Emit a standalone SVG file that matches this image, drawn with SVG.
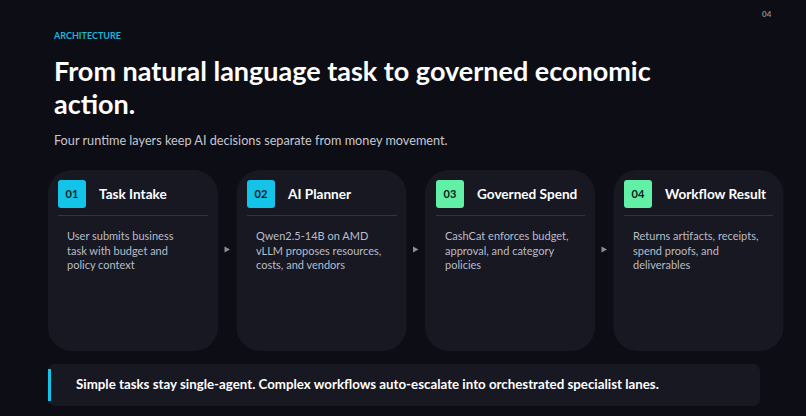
<svg xmlns="http://www.w3.org/2000/svg" width="806" height="416" viewBox="0 0 806 416">
<style>
.bg{fill:#0d0d15}
.card{fill:#181822}
.sep{stroke:#34343f;stroke-width:1}
.badge-c{fill:#14c3e8}
.badge-g{fill:#62efa6}
.bnum{font-family:Lato,"Open Sans",sans-serif;font-weight:700;font-size:11px;fill:#0b1a22}
.ctitle{font-family:Lato,"Open Sans",sans-serif;font-weight:700;font-size:13.6px;fill:#ffffff}
.body{font-family:Lato,"Open Sans",sans-serif;font-size:11px;fill:#b9bcc8}
.arrow{fill:#8c8c99}
</style>
<rect class="bg" x="0" y="0" width="806" height="416"/>
<text x="762" y="17" font-family="Lato,sans-serif" font-weight="700" font-size="8px" fill="#8a8a96">04</text>
<text x="54" y="39" font-family="Lato,sans-serif" font-weight="700" font-size="9px" fill="#1fb3d5">ARCHITECTURE</text>
<text font-family="Lato,'Open Sans',sans-serif" font-weight="700" font-size="27px" fill="#ffffff"><tspan x="54" y="81">From natural language task to governed economic</tspan><tspan x="54" y="114">action.</tspan></text>
<text x="54" y="145" font-family="Lato,'Open Sans',sans-serif" font-size="12.7px" fill="#c6c7d0">Four runtime layers keep AI decisions separate from money movement.</text>

<g id="node-01">
<rect class="card" x="48" y="170" width="170" height="181" rx="24"/>
<rect class="badge-c" x="58" y="180" width="28" height="28" rx="3"/>
<text class="bnum" x="72" y="198" text-anchor="middle">01</text>
<text class="ctitle" x="99" y="199">Task Intake</text>
<line class="sep" x1="58" y1="215.5" x2="208" y2="215.5"/>
<text class="body"><tspan x="67" y="240">User submits business</tspan><tspan x="67" y="254.5">task with budget and</tspan><tspan x="67" y="269">policy context</tspan></text>
</g>

<g id="node-02">
<rect class="card" x="236.5" y="170" width="170" height="181" rx="24"/>
<rect class="badge-c" x="247" y="180" width="28" height="28" rx="3"/>
<text class="bnum" x="261" y="198" text-anchor="middle">02</text>
<text class="ctitle" x="288" y="199">AI Planner</text>
<line class="sep" x1="247" y1="215.5" x2="397" y2="215.5"/>
<text class="body"><tspan x="256" y="240">Qwen2.5-14B on AMD</tspan><tspan x="256" y="254.5">vLLM proposes resources,</tspan><tspan x="256" y="269">costs, and vendors</tspan></text>
</g>

<g id="node-03">
<rect class="card" x="425" y="170" width="170" height="181" rx="24"/>
<rect class="badge-g" x="436" y="180" width="28" height="28" rx="3"/>
<text class="bnum" x="450" y="198" text-anchor="middle">03</text>
<text class="ctitle" x="477" y="199">Governed Spend</text>
<line class="sep" x1="436" y1="215.5" x2="585" y2="215.5"/>
<text class="body"><tspan x="445" y="240">CashCat enforces budget,</tspan><tspan x="445" y="254.5">approval, and category</tspan><tspan x="445" y="269">policies</tspan></text>
</g>

<g id="node-04">
<rect class="card" x="613.5" y="170" width="170" height="181" rx="24"/>
<rect class="badge-g" x="624" y="180" width="28" height="28" rx="3"/>
<text class="bnum" x="638" y="198" text-anchor="middle">04</text>
<text class="ctitle" x="665" y="199">Workflow Result</text>
<line class="sep" x1="624" y1="215.5" x2="773" y2="215.5"/>
<text class="body"><tspan x="633" y="240">Returns artifacts, receipts,</tspan><tspan x="633" y="254.5">spend proofs, and</tspan><tspan x="633" y="269">deliverables</tspan></text>
</g>

<g id="connectors">
<polygon class="arrow" points="224.5,246.5 230,249.5 224.5,252.5"/>
<polygon class="arrow" points="413,246.5 418.5,249.5 413,252.5"/>
<polygon class="arrow" points="601.5,246.5 607,249.5 601.5,252.5"/>
</g>

<g id="callout">
<rect class="card" x="48" y="364" width="712" height="42" rx="7"/>
<rect x="48" y="369" width="3" height="32" fill="#14c3e8"/>
<text x="76" y="389" font-family="Lato,'Open Sans',sans-serif" font-weight="700" font-size="13.3px" fill="#ffffff">Simple tasks stay single-agent. Complex workflows auto-escalate into orchestrated specialist lanes.</text>
</g>
</svg>
